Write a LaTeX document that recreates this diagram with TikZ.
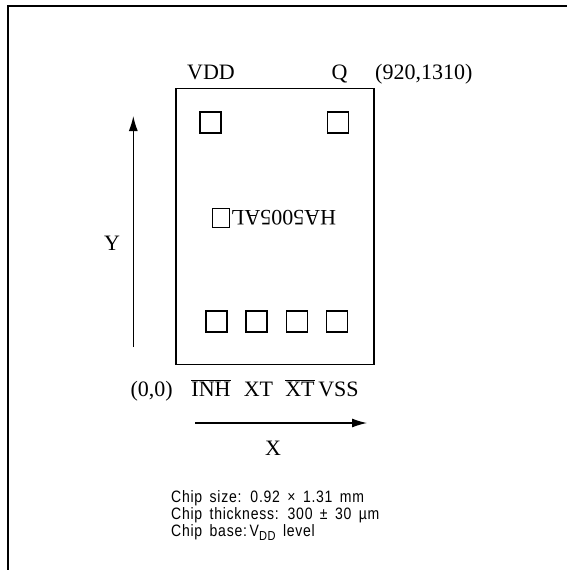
\documentclass[tikz,border=0pt]{standalone}
\usepackage{fontspec}
\setmainfont{Liberation Serif}
\newfontfamily\notefont[FakeStretch=0.85,LetterSpace=4.5,WordSpace=1.6]{Liberation Sans}
\usetikzlibrary{arrows.meta}
\tikzset{
    every node/.style={inner sep=0pt, font=\fontsize{22}{26}\selectfont}
}
\tikzset{
    pad/.style={draw, line width=1.2pt, minimum size=21pt}
}
\tikzset{
    note/.style={anchor=base west, font=\notefont\fontsize{16.5}{17}\selectfont}
}
\tikzset{
    axis/.style={line width=1.2pt, -{Latex[length=15pt,width=9pt]}}
}
\newcommand{\barred}[1]{$\overline{\hbox{#1}}$}

\begin{document}
\begin{tikzpicture}[x=1pt,y=-1pt]
	\useasboundingbox (0,0) rectangle (567,570);
	\draw[line width=1.6pt] (567,6) -- (8,6) -- (8,570);

	\node (chip) [draw, line width=1.3pt, minimum width=198pt,
		minimum height=276pt] at (275,226.75) {};

	\node (p1) [pad] at (210.5,122.5) {};
	\node (p2) [pad] at (338,122.5) {};
	\node (p3) [pad] at (216.5,321.5) {};
	\node (p4) [pad] at (256.5,321.5) {};
	\node (p5) [pad] at (297,321.5) {};
	\node (p6) [pad] at (337,321.5) {};

	\node (name) [rotate=180] at (283.5,218) {HA5005AL};
	\node (mark) [draw, line width=1pt, minimum width=17pt,
		minimum height=19pt] at (220.5,218) {};

	\node (vdd) [anchor=base] at (211,79) {VDD};
	\node (q) [anchor=base] at (339.5,79) {Q};
	\node (corner) [anchor=base west] at (375,79) {(920,1310)};
	\node (origin) [anchor=base] at (151.7,396) {(0,0)};
	\node (inh) [anchor=base] at (211,396) {\barred{INH}};
	\node (xt) [anchor=base] at (258.5,396) {XT};
	\node (xtb) [anchor=base] at (300,396) {\barred{XT}};
	\node (vss) [anchor=base] at (338.5,396) {VSS};

	\coordinate (x0) at (195,423);
	\coordinate (x1) at (367,423);
	\coordinate (y0) at (133.3,347);
	\coordinate (y1) at (133.3,116);
	\draw[axis] (x0) -- (x1);
	\draw[axis] (y0) -- (y1);
	\node (xl) at (273,448) {X};
	\node (yl) at (112,243) {Y};

	\node (n1) [note] at (171,502.5) {Chip size: 0.92 × 1.31 mm};
	\node (n2) [note] at (171,519.5) {Chip thickness: 300 ± 30 µm};
	\node (n3) [note] at (171,536.5) {Chip base:\,V\raisebox{-4pt}{\fontsize{13}{13}\selectfont DD} level};
\end{tikzpicture}
\end{document}
